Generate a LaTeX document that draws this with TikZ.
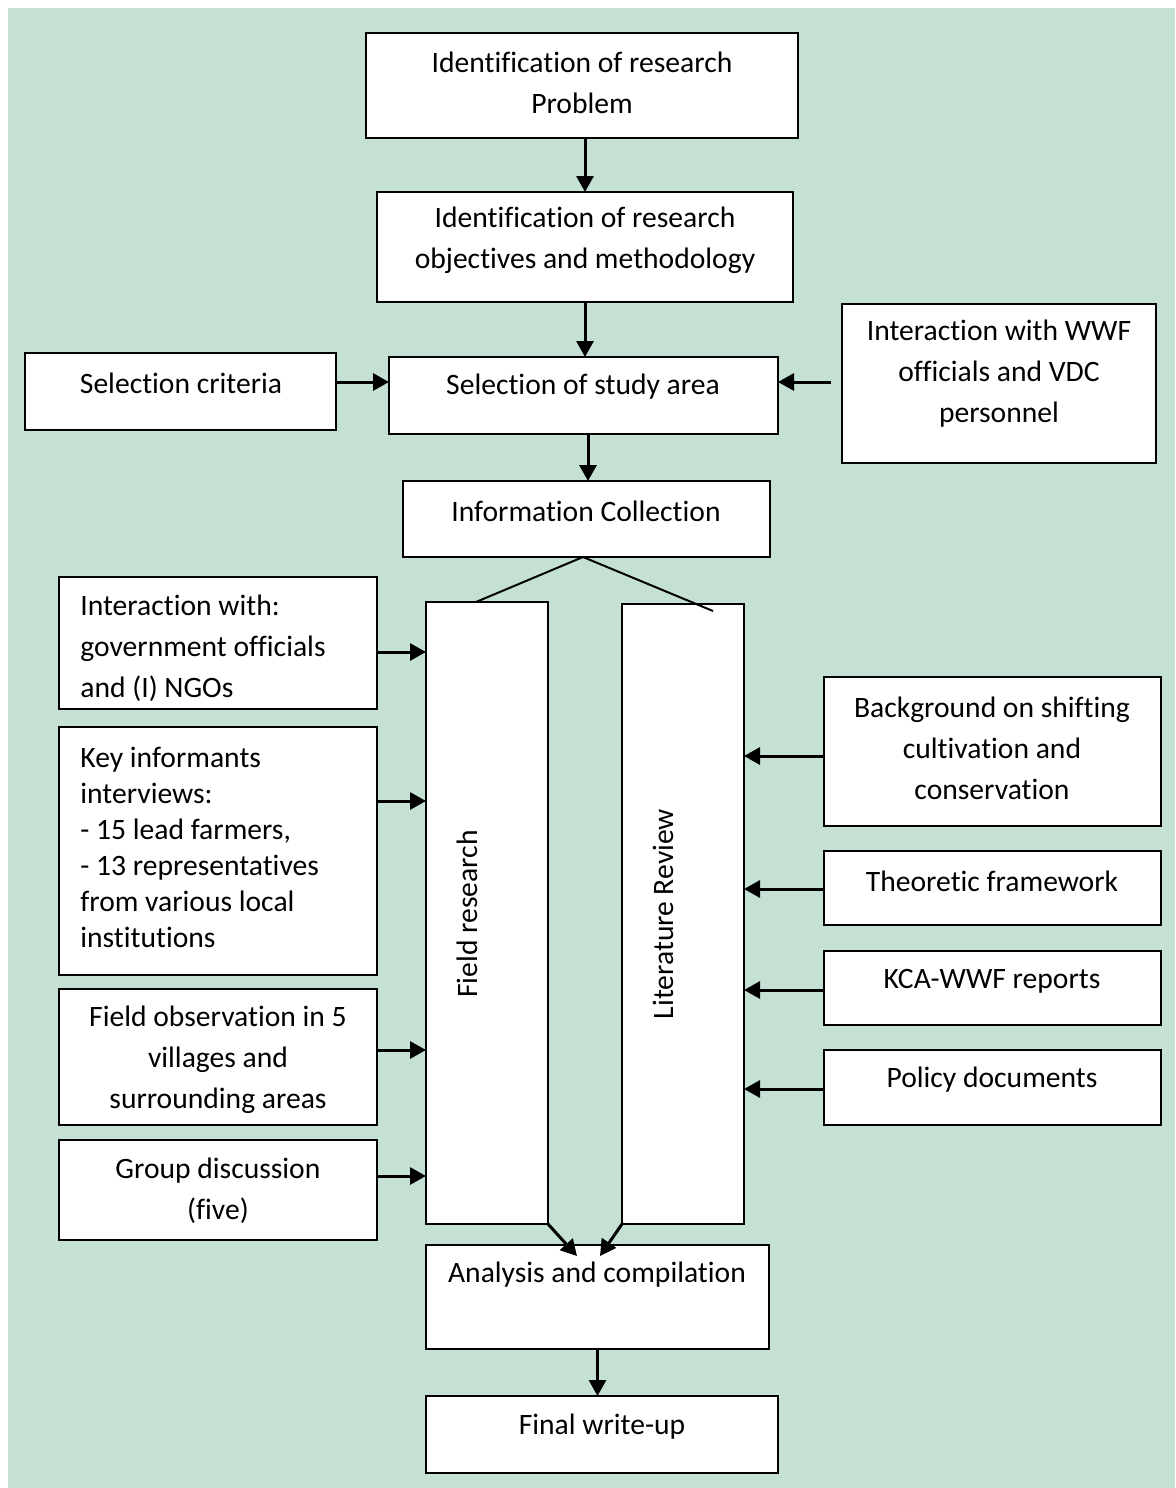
\documentclass[tikz,border=0pt]{standalone}
\usepackage{fontspec}
\setmainfont{Carlito}[Ligatures=NoCommon]
\usetikzlibrary{arrows.meta,fit}
\definecolor{bgc}{RGB}{197,225,212}
\begin{document}
\begin{tikzpicture}[x=0.5pt,y=-0.5pt,
  box/.style={draw=black,fill=white,line width=1pt,inner sep=0pt,outer sep=0pt},
  txt/.style={inner sep=0pt,align=center,font=\fontsize{14.8}{20.5}\selectfont},
  ltxt/.style={inner sep=0pt,align=left,anchor=west,font=\fontsize{14.8}{20.5}\selectfont},
  arr/.style={line width=1.5pt,-{Triangle[length=8pt,width=8.5pt]}},
  thin/.style={line width=1pt}]
\useasboundingbox (0,0) rectangle (1175,1488);
\fill[bgc] (8,8) rectangle (1175,1488);

% boxes
\node[box,fit={(366,33)(798,138)}] (prob) {};
\node[box,fit={(377,192)(793,302)}] (obj) {};
\node[box,fit={(25,353)(336,430)}] (crit) {};
\node[box,fit={(389,357)(778,434)}] (sel) {};
\node[box,fit={(842,304)(1156,463)}] (wwf) {};
\node[box,fit={(403,481)(770,557)}] (info) {};
\node[box,fit={(426,602)(548,1224)}] (field) {};
\node[box,fit={(622,604)(744,1224)}] (lit) {};
\node[box,fit={(59,577)(377,709)}] (iw) {};
\node[box,fit={(59,727)(377,975)}] (key) {};
\node[box,fit={(59,989)(377,1125)}] (obs) {};
\node[box,fit={(59,1140)(377,1240)}] (grp) {};
\node[box,fit={(824,677)(1161,826)}] (bg) {};
\node[box,fit={(824,851)(1161,925)}] (theo) {};
\node[box,fit={(824,951)(1161,1025)}] (kca) {};
\node[box,fit={(824,1050)(1161,1125)}] (pol) {};
\node[box,fit={(426,1245)(769,1349)}] (ana) {};
\node[box,fit={(426,1396)(778,1473)}] (fin) {};

% texts
\node[txt] (probt) at (582,82.5) {Identification of research\\Problem};
\node[txt] (objt) at (585,240.5) {Identification of research\\objectives and methodology};
\node[txt] (critt) at (181,383) {Selection criteria};
\node[txt] (selt) at (583,387) {Selection of study area};
\node[txt] (wwft) at (999,374) {Interaction with WWF\\officials and VDC\\personnel};
\node[txt] (infot) at (586,511) {Information Collection};
\node[txt,rotate=90] (fieldt) at (467,914) {Field research};
\node[txt,rotate=90] (litt) at (663,914) {Literature Review};
\node[ltxt] (iwt) at (80,648.5) {Interaction with:\\government officials\\and (I) NGOs};
\node[ltxt,font=\fontsize{14.8}{18}\selectfont] (keyt) at (80,847.5) {Key informants\\interviews:\\- 15 lead farmers,\\- 13 representatives\\from various local\\institutions};
\node[txt] (obst) at (218,1060) {Field observation in 5\\villages and\\surrounding areas};
\node[txt] (grpt) at (218,1190.5) {Group discussion\\(five)};
\node[txt] (bgt) at (992,748) {Background on shifting\\cultivation and\\conservation};
\node[txt] (theot) at (992,881) {Theoretic framework};
\node[txt] (kcat) at (992,981) {KCA-WWF reports};
\node[txt] (polt) at (992,1080) {Policy documents};
\node[txt] (anat) at (597,1275) {Analysis and compilation};
\node[txt] (fint) at (602,1427) {Final write-up};

% coordinates
\coordinate (wwfstart) at (831,382);
\coordinate (infobot) at (583,557);
\coordinate (fieldtop) at (476,602);
\coordinate (littop) at (713,611);
\coordinate (anaL) at (577,1256);
\coordinate (anaR) at (600,1256);

% connectors
\draw[arr] (prob.south -| obj.north) -- (obj.north);
\draw[arr] (obj.south) -- (sel.north -| obj.south);
\draw[arr] (crit.east |- 0,382) -- (sel.west |- 0,382);
\draw[arr] (wwfstart) -- (sel.east |- wwfstart);
\draw[arr] (588,434) -- (info.north -| 588,0);
\draw[thin] (fieldtop) -- (infobot) -- (littop);
\draw[arr] (iw.east |- 0,652) -- (field.west |- 0,652);
\draw[arr] (key.east |- 0,801) -- (field.west |- 0,801);
\draw[arr] (obs.east |- 0,1050) -- (field.west |- 0,1050);
\draw[arr] (grp.east |- 0,1176) -- (field.west |- 0,1176);
\draw[arr] (bg.west |- 0,756) -- (lit.east |- 0,756);
\draw[arr] (theo.west |- 0,889) -- (lit.east |- 0,889);
\draw[arr] (kca.west |- 0,990) -- (lit.east |- 0,990);
\draw[arr] (pol.west |- 0,1089) -- (lit.east |- 0,1089);
\draw[arr] (field.south east) -- (anaL);
\draw[arr] (lit.south west) -- (anaR);
\draw[arr] (ana.south) -- (fin.north -| ana.south);
\end{tikzpicture}
\end{document}
